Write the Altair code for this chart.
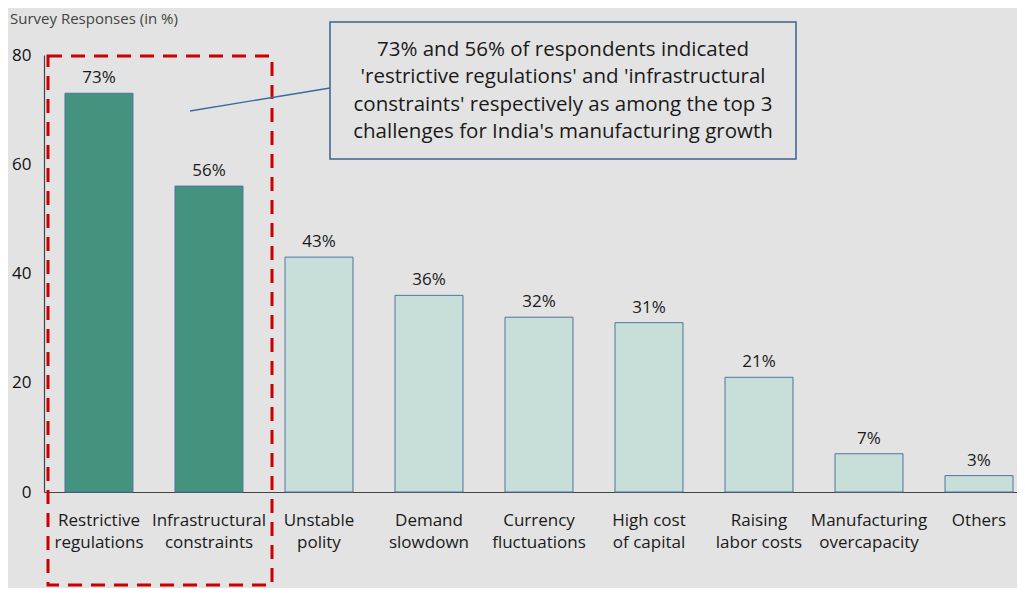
import altair as alt
import pandas as pd

categories = ["Restrictive|regulations", "Infrastructural|constraints", "Unstable|polity",
              "Demand|slowdown", "Currency|fluctuations", "High cost|of capital",
              "Raising|labor costs", "Manufacturing|overcapacity", "Others"]
values = [73, 56, 43, 36, 32, 31, 21, 7, 3]
highlight = [True, True, False, False, False, False, False, False, False]
y_ticks = [0, 20, 40, 60, 80]
callout_lines = ["73% and 56% of respondents indicated",
                 "'restrictive regulations' and 'infrastructural",
                 "constraints' respectively as among the top 3",
                 "challenges for India's manufacturing growth"]

FONT = "Open Sans"
BG = "#e3e3e3"

df = pd.DataFrame({"cat": categories, "val": values, "hl": highlight})
df["label"] = df["val"].astype(str) + "%"

x = alt.X("cat:N", sort=categories,
          scale=alt.Scale(paddingInner=0.382, paddingOuter=0.1136, align=0.84),
          axis=alt.Axis(title=None, labelAngle=0, labelExpr="split(datum.label, '|')",
                        labelFontSize=17, labelColor="#1a1a1a", labelFont=FONT,
                        labelPadding=20, labelLineHeight=22, ticks=False,
                        domainColor="#444", domainWidth=1.2, labelBaseline="top"))
y = alt.Y("val:Q", scale=alt.Scale(domain=[0, 80], nice=False),
          axis=alt.Axis(title=None, values=y_ticks, grid=False, ticks=False,
                        labelFontSize=17, labelColor="#111", labelFont=FONT,
                        labelPadding=13, domainColor="#444", domainWidth=1.2))

base = alt.Chart(df)
bars = base.mark_bar(stroke="#4f74a0", strokeWidth=1).encode(
    x=x, y=y,
    color=alt.Color("hl:N", scale=alt.Scale(domain=[True, False], range=["#43937f", "#c7dfd8"]),
                    legend=None))
labels = base.mark_text(baseline="bottom", dy=-6, fontSize=17, color="#1a1a1a", font=FONT).encode(
    x=alt.X("cat:N", sort=categories), y="val:Q", text="label:N")

anno = pd.DataFrame({"a": [0]})
title = alt.Chart(anno).mark_text(text="Survey Responses (in %)", align="left", baseline="middle",
                                  fontSize=15, color="#444", font=FONT).encode(
    x=alt.value(-34), y=alt.value(-36))

red_box = alt.Chart(anno).mark_rect(fill=None, stroke="#cc0000", strokeWidth=3,
                                    strokeDash=[14, 9], clip=False).encode(
    x=alt.value(4), x2=alt.value(228), y=alt.value(1), y2=alt.value(530))

conn = alt.Chart(anno).mark_rule(color="#3a6a9e", strokeWidth=1.3).encode(
    x=alt.value(146), y=alt.value(56), x2=alt.value(286), y2=alt.value(33))

callout_box = alt.Chart(anno).mark_rect(fill=BG, stroke="#3d6391", strokeWidth=1.5).encode(
    x=alt.value(286), x2=alt.value(752), y=alt.value(-33), y2=alt.value(104))

cl = pd.DataFrame({"t": callout_lines, "i": list(range(len(callout_lines)))})
callout_text = alt.Chart(cl).mark_text(align="center", baseline="middle", fontSize=20.5,
                                       color="#1a1a1a", font=FONT).transform_calculate(
    py="-5 + datum.i * 27.3").encode(
    x=alt.value(519), y=alt.Y("py:Q", scale=None), text="t:N")

chart = alt.layer(bars, labels, red_box, conn, callout_box, callout_text, title).properties(
    width=973, height=437,
    autosize=alt.AutoSizeParams(type="none"),
    padding={"left": 36, "top": 47, "right": 0, "bottom": 96},
    background=BG,
).configure_view(stroke=None)

chart.save("out.html", embed_options={"renderer": "svg", "actions": False})
